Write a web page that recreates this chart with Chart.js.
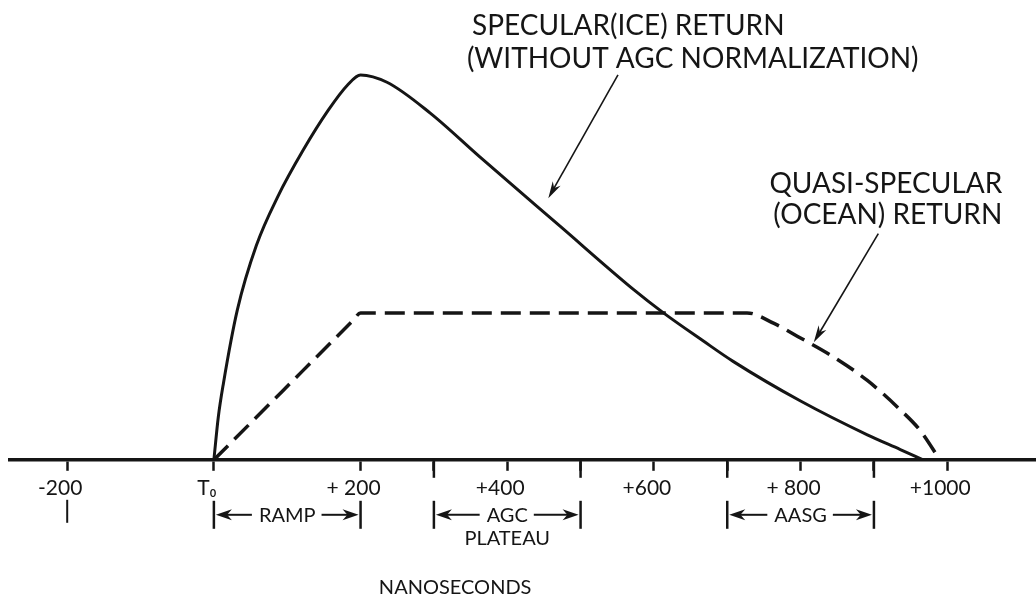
<!DOCTYPE html>
<html lang="en">
<head>
<meta charset="UTF-8">
<title>Specular and quasi-specular return</title>
<script src="https://cdn.jsdelivr.net/npm/chart.js"></script>
<style>
  html, body { margin: 0; padding: 0; background: #fff; }
  #wrap { width: 1036px; height: 600px; }
</style>
</head>
<body>
<div id="wrap"><canvas id="grafico" width="1036" height="600"></canvas></div>
<script>
// time from T0 in nanoseconds, amplitude relative to the AGC plateau (= 1)
const iceNs    = [0, 6, 13, 32, 58, 87, 122, 156, 182, 200, 236, 295, 363, 472, 572, 613, 667, 708, 800, 891, 936, 967];
const iceAmp   = [0, 0.29, 0.52, 1.02, 1.46, 1.79, 2.11, 2.38, 2.55, 2.62, 2.57, 2.36, 2.06, 1.59, 1.16, 1.00, 0.81, 0.67, 0.40, 0.17, 0.07, 0];
const oceanNs  = [0, 190, 200, 727, 763, 796, 845, 891, 936, 963, 990];
const oceanAmp = [0, 0.95, 1.0, 1.0, 0.93, 0.84, 0.70, 0.54, 0.34, 0.20, 0];

const tickValues = [-200, 0, 200, 300, 400, 500, 600, 700, 800, 900, 1000];
const tickLabels = ['-200', 'T\u2080', '+ 200', '', '+400', '', '+600', '', '+ 800', '', '+1000'];
const longTicks  = [300, 500, 700, 900];

const spanNames = ['RAMP', 'AGC', 'AASG'];
const spanSub   = ['', 'PLATEAU', ''];
const spanFrom  = [0, 300, 700];
const spanTo    = [200, 500, 900];

const iceLabel   = ['SPECULAR(ICE) RETURN', '(WITHOUT AGC NORMALIZATION)'];
const oceanLabel = ['QUASI-SPECULAR', '(OCEAN) RETURN'];
const axisTitle  = 'NANOSECONDS';

const ink = '#151515';
const face = 'Lato, "DejaVu Sans", sans-serif';

function seg(ctx, x0, y0, x1, y1) {
    ctx.beginPath(); ctx.moveTo(x0, y0); ctx.lineTo(x1, y1); ctx.stroke();
}

function arrow(ctx, x0, y0, x1, y1, len, half) {
    const a = Math.atan2(y1 - y0, x1 - x0);
    const bx = x1 - Math.cos(a) * len, by = y1 - Math.sin(a) * len;
    seg(ctx, x0, y0, x1 - Math.cos(a) * len * 0.6, y1 - Math.sin(a) * len * 0.6);
    ctx.beginPath();
    ctx.moveTo(x1, y1);
    ctx.lineTo(bx + Math.sin(a) * half, by - Math.cos(a) * half);
    ctx.lineTo(x1 - Math.cos(a) * len * 0.7, y1 - Math.sin(a) * len * 0.7);
    ctx.lineTo(bx - Math.sin(a) * half, by + Math.cos(a) * half);
    ctx.closePath();
    ctx.fill();
}

const notas = {
    id: 'notas',
    afterDraw(chart) {
        const {ctx, scales: {x, y}} = chart;
        const axisY = y.getPixelForValue(0);
        ctx.save();
        ctx.strokeStyle = ink;
        ctx.fillStyle = ink;
        ctx.lineCap = 'butt';

        // longer marks between the labelled ticks
        ctx.lineWidth = 2.5;
        longTicks.forEach(v => {
            const px = x.getPixelForValue(v);
            seg(ctx, px, axisY, px, axisY + 18);
        });
        // small bar under -200
        const p200 = x.getPixelForValue(-200);
        ctx.lineWidth = 2;
        seg(ctx, p200, axisY + 40, p200, axisY + 63);

        // RAMP / AGC PLATEAU / AASG spans
        const dimY = axisY + 55;
        ctx.font = '20px ' + face;
        ctx.textAlign = 'center';
        ctx.textBaseline = 'middle';
        spanNames.forEach((name, i) => {
            const a = x.getPixelForValue(spanFrom[i]);
            const b = x.getPixelForValue(spanTo[i]);
            const mid = (a + b) / 2;
            const w = ctx.measureText(name).width;
            ctx.lineWidth = 2.5;
            seg(ctx, a, axisY + 41, a, axisY + 69);
            seg(ctx, b, axisY + 41, b, axisY + 69);
            ctx.lineWidth = 2;
            arrow(ctx, mid - w / 2 - 7, dimY, a + 2, dimY, 16, 5.5);
            arrow(ctx, mid + w / 2 + 6, dimY, b - 2, dimY, 16, 5.5);
            ctx.fillText(name, mid, dimY + 1);
            if (spanSub[i]) ctx.fillText(spanSub[i], mid, dimY + 24);
        });

        // axis title
        ctx.font = '20px ' + face;
        ctx.fillText(axisTitle, x.getPixelForValue(329), axisY + 128);

        // call-outs
        ctx.font = '28px ' + face;
        ctx.textAlign = 'left';
        ctx.fillText(iceLabel[0], x.getPixelForValue(352), y.getPixelForValue(2.95));
        ctx.fillText(iceLabel[1], x.getPixelForValue(345), y.getPixelForValue(2.73));
        ctx.textAlign = 'right';
        ctx.fillText(oceanLabel[0], x.getPixelForValue(1075), y.getPixelForValue(1.88));
        ctx.fillText(oceanLabel[1], x.getPixelForValue(1075), y.getPixelForValue(1.67));

        ctx.lineWidth = 1.6;
        arrow(ctx, x.getPixelForValue(551), y.getPixelForValue(2.62),
                   x.getPixelForValue(456), y.getPixelForValue(1.78), 17, 4.5);
        arrow(ctx, x.getPixelForValue(906), y.getPixelForValue(1.54),
                   x.getPixelForValue(818), y.getPixelForValue(0.80), 17, 4.5);
        ctx.restore();
    }
};

new Chart(document.getElementById('grafico'), {
    type: 'line',
    data: {
        datasets: [{
            label: 'Specular (ice) return',
            data: iceNs.map((v, i) => ({x: v, y: iceAmp[i]})),
            borderColor: ink,
            borderWidth: 3,
            pointRadius: 0,
            cubicInterpolationMode: 'monotone',
            fill: false
        }, {
            label: 'Quasi-specular (ocean) return',
            data: oceanNs.map((v, i) => ({x: v, y: oceanAmp[i]})),
            borderColor: ink,
            borderWidth: 3.5,
            borderDash: [20, 9],
            pointRadius: 0,
            cubicInterpolationMode: 'monotone',
            fill: false
        }]
    },
    options: {
        responsive: false,
        animation: false,
        devicePixelRatio: 1,
        layout: { padding: { left: 10, right: 0, top: 0, bottom: 94 } },
        plugins: { legend: { display: false }, tooltip: { enabled: false } },
        scales: {
            x: {
                type: 'linear',
                min: -278,
                max: 1121,
                afterBuildTicks: s => { s.ticks = tickValues.map(v => ({value: v})); },
                ticks: {
                    autoSkip: false,
                    maxRotation: 0,
                    padding: 5,
                    labelOffset: -7,
                    color: ink,
                    font: { family: face, size: 21 },
                    callback: v => tickLabels[tickValues.indexOf(v)]
                },
                grid: { drawOnChartArea: false, drawTicks: true, tickLength: 11, tickWidth: 2.5, tickColor: ink },
                border: { display: true, color: ink, width: 3.5 }
            },
            y: { type: 'linear', min: 0, max: 3.13, display: false }
        }
    },
    plugins: [notas]
});
</script>
</body>
</html>
